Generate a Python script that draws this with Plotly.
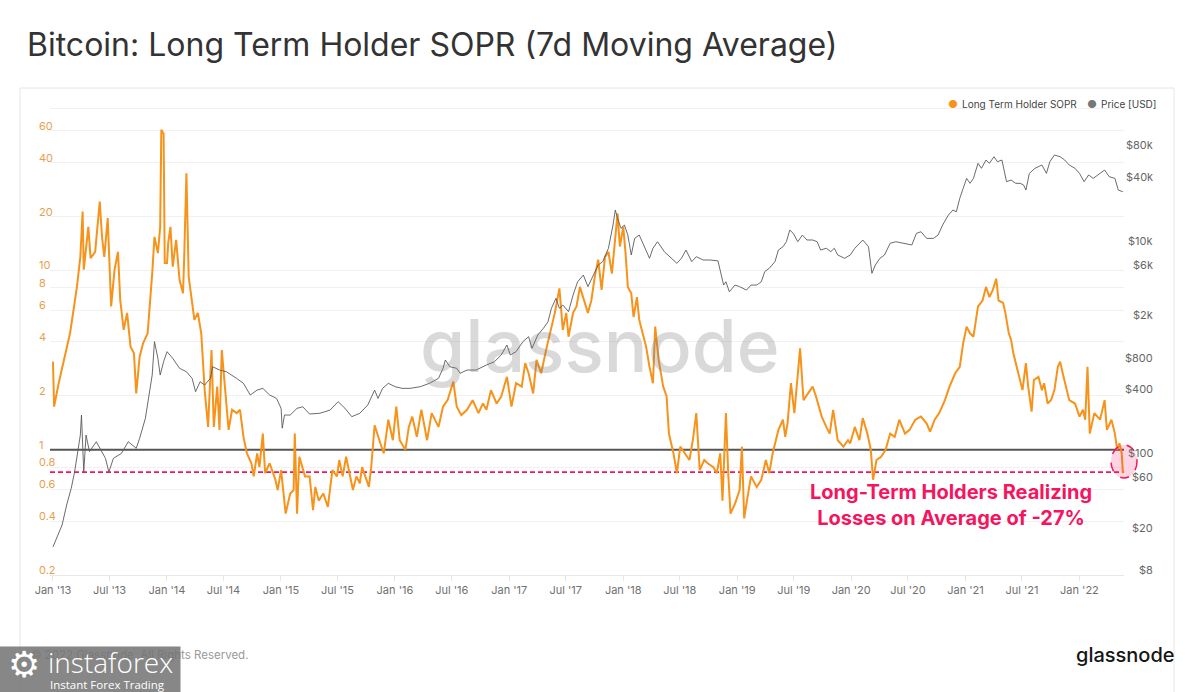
import numpy as np
import pandas as pd
import plotly.graph_objects as go

# ---------------- data ----------------
# dates are given as decimal years
sopr_t = [2013.00, 2013.01, 2013.05, 2013.08, 2013.11, 2013.15, 2013.18, 2013.21, 2013.24, 2013.26,
          2013.27, 2013.31, 2013.33, 2013.37, 2013.41, 2013.43, 2013.45, 2013.48, 2013.51, 2013.54,
          2013.57, 2013.59, 2013.62, 2013.65, 2013.68, 2013.71, 2013.73, 2013.76, 2013.79, 2013.83,
          2013.87, 2013.89, 2013.92, 2013.94, 2013.95, 2013.97, 2013.98, 2014.00, 2014.01, 2014.03,
          2014.05, 2014.08, 2014.11, 2014.14, 2014.15, 2014.17, 2014.19, 2014.22, 2014.24, 2014.27,
          2014.30, 2014.33, 2014.36, 2014.39, 2014.41, 2014.44, 2014.46, 2014.48, 2014.51, 2014.54,
          2014.57, 2014.61, 2014.64, 2014.67, 2014.70, 2014.74, 2014.76, 2014.79, 2014.81, 2014.84,
          2014.86, 2014.90, 2014.95, 2014.97, 2015.00, 2015.04, 2015.08, 2015.11, 2015.12, 2015.14,
          2015.16, 2015.21, 2015.25, 2015.28, 2015.30, 2015.33, 2015.37, 2015.41, 2015.45, 2015.49,
          2015.51, 2015.54, 2015.57, 2015.60, 2015.63, 2015.66, 2015.69, 2015.71, 2015.74, 2015.77,
          2015.79, 2015.82, 2015.87, 2015.90, 2015.94, 2015.98, 2016.01, 2016.04, 2016.09, 2016.12,
          2016.15, 2016.19, 2016.23, 2016.28, 2016.32, 2016.38, 2016.42, 2016.46, 2016.51, 2016.54,
          2016.58, 2016.63, 2016.68, 2016.73, 2016.77, 2016.80, 2016.84, 2016.89, 2016.93, 2016.98,
          2017.02, 2017.06, 2017.11, 2017.14, 2017.17, 2017.21, 2017.24, 2017.28, 2017.33, 2017.36,
          2017.40, 2017.44, 2017.47, 2017.50, 2017.52, 2017.56, 2017.59, 2017.62, 2017.66, 2017.69,
          2017.72, 2017.75, 2017.78, 2017.81, 2017.84, 2017.87, 2017.90, 2017.93, 2017.95, 2017.97,
          2018.00, 2018.02, 2018.04, 2018.07, 2018.09, 2018.12, 2018.14, 2018.17, 2018.20, 2018.23,
          2018.26, 2018.28, 2018.31, 2018.35, 2018.38, 2018.40, 2018.44, 2018.47, 2018.50, 2018.54,
          2018.58, 2018.61, 2018.64, 2018.67, 2018.71, 2018.74, 2018.79, 2018.82, 2018.85, 2018.87,
          2018.90, 2018.92, 2018.94, 2018.98, 2019.02, 2019.04, 2019.06, 2019.09, 2019.12, 2019.17,
          2019.21, 2019.25, 2019.28, 2019.31, 2019.36, 2019.40, 2019.42, 2019.44, 2019.47, 2019.50,
          2019.55, 2019.58, 2019.62, 2019.66, 2019.69, 2019.74, 2019.78, 2019.81, 2019.84, 2019.88,
          2019.93, 2019.97, 2019.99, 2020.03, 2020.07, 2020.10, 2020.14, 2020.17, 2020.19, 2020.22,
          2020.26, 2020.30, 2020.34, 2020.38, 2020.42, 2020.47, 2020.51, 2020.56, 2020.61, 2020.66,
          2020.69, 2020.73, 2020.77, 2020.82, 2020.86, 2020.91, 2020.95, 2020.98, 2021.01, 2021.04,
          2021.07, 2021.11, 2021.15, 2021.18, 2021.21, 2021.24, 2021.27, 2021.29, 2021.33, 2021.35,
          2021.38, 2021.40, 2021.42, 2021.44, 2021.48, 2021.50, 2021.53, 2021.55, 2021.58, 2021.60,
          2021.64, 2021.67, 2021.69, 2021.72, 2021.75, 2021.78, 2021.81, 2021.83, 2021.86, 2021.88,
          2021.91, 2021.96, 2022.00, 2022.03, 2022.05, 2022.07, 2022.08, 2022.09, 2022.13, 2022.18,
          2022.22, 2022.24, 2022.28, 2022.31, 2022.33, 2022.35, 2022.37, 2022.38]
sopr_v = [3.1, 1.74, 2.35, 2.85, 3.46, 4.48, 6.0, 8.1, 11.9, 21.3,
          10.1, 17.5, 11.7, 12.7, 24.2, 15.4, 11.9, 19.6, 6.3, 10.1,
          12.7, 6.8, 4.66, 5.8, 3.76, 3.45, 2.06, 3.30, 3.92, 4.46,
          9.6, 15.4, 12.5, 17.5, 61, 58, 11, 11, 14.2, 17.5,
          10.5, 14.8, 8.85, 7.46, 11.5, 34.9, 9.2, 6.8, 5.3, 5.8,
          4.46, 2.15, 1.34, 3.6, 1.34, 2.25, 1.29, 3.6, 2.15, 1.29,
          1.67, 1.6, 1.67, 1.18, 0.955, 0.84, 0.71, 0.955, 0.80, 1.23,
          0.74, 0.84, 0.68, 0.596, 0.77, 0.44, 0.57, 0.596, 1.23, 0.44,
          0.914, 0.71, 0.71, 0.46, 0.62, 0.52, 0.57, 0.48, 0.77, 0.71,
          0.876, 0.71, 0.914, 0.74, 0.596, 0.71, 0.65, 0.80, 0.71, 0.62,
          0.80, 1.37, 1.086, 0.955, 1.47, 1.13, 1.74, 1.13, 1.0, 1.34,
          1.53, 1.18, 1.67, 1.13, 1.6, 1.34, 1.74, 1.89, 2.4, 1.74,
          1.56, 1.67, 1.89, 1.6, 1.81, 1.67, 2.15, 1.81, 1.98, 2.55,
          1.74, 2.35, 2.25, 3.04, 2.67, 2.06, 3.17, 2.67, 3.76, 4.46,
          5.8, 7.95, 4.66, 5.8, 4.27, 5.8, 6.3, 8.1, 6.8, 5.8,
          6.8, 9.2, 11.5, 7.8, 11.9, 12.7, 9.6, 16.1, 20.8, 13.6,
          17.5, 12.5, 8.1, 7.46, 5.5, 7.1, 5.3, 4.46, 3.76, 2.9,
          2.35, 4.86, 3.17, 2.25, 1.98, 1.23, 0.955, 0.74, 1.04, 0.955,
          0.876, 1.13, 1.6, 0.77, 0.876, 0.84, 0.80, 0.74, 0.955, 0.52,
          1.6, 0.74, 0.44, 0.50, 0.596, 1.04, 0.414, 0.547, 0.71, 0.62,
          0.68, 0.876, 0.74, 0.955, 1.29, 1.47, 1.18, 1.4, 2.35, 1.6,
          3.68, 1.89, 2.06, 2.25, 1.98, 1.53, 1.34, 1.23, 1.67, 1.13,
          1.04, 1.13, 1.086, 1.34, 1.13, 1.50, 1.23, 1.0, 0.68, 0.876,
          0.914, 1.0, 1.23, 1.18, 1.47, 1.23, 1.29, 1.47, 1.53, 1.4,
          1.26, 1.47, 1.6, 1.89, 2.25, 2.67, 2.9, 3.92, 4.86, 4.46,
          4.27, 6.3, 6.8, 8.1, 7.1, 7.8, 9.0, 6.8, 6.6, 5.8,
          4.46, 4.1, 3.45, 3.04, 2.45, 2.15, 3.04, 2.25, 1.63, 2.45,
          2.55, 2.15, 2.35, 1.81, 1.89, 2.15, 2.9, 3.1, 2.55, 2.25,
          1.89, 1.81, 1.53, 1.67, 1.47, 2.9, 2.06, 1.23, 1.6, 1.47,
          1.89, 1.29, 1.47, 1.23, 1.0, 1.086, 0.955, 0.74]

price_t = [2013.00, 2013.03, 2013.08, 2013.12, 2013.16, 2013.19, 2013.22, 2013.24, 2013.25, 2013.27,
           2013.29, 2013.32, 2013.38, 2013.43, 2013.46, 2013.49, 2013.53, 2013.60, 2013.66, 2013.73,
           2013.76, 2013.81, 2013.84, 2013.87, 2013.89, 2013.92, 2013.94, 2013.97, 2014.00, 2014.05,
           2014.11, 2014.17, 2014.22, 2014.25, 2014.29, 2014.33, 2014.38, 2014.40, 2014.46, 2014.52,
           2014.61, 2014.67, 2014.73, 2014.79, 2014.84, 2014.90, 2014.96, 2015.00, 2015.01, 2015.03,
           2015.08, 2015.14, 2015.19, 2015.25, 2015.34, 2015.43, 2015.50, 2015.56, 2015.62, 2015.69,
           2015.76, 2015.82, 2015.85, 2015.89, 2015.94, 2016.00, 2016.06, 2016.13, 2016.22, 2016.30,
           2016.38, 2016.42, 2016.44, 2016.48, 2016.54, 2016.57, 2016.63, 2016.71, 2016.80, 2016.87,
           2016.93, 2016.98, 2017.01, 2017.06, 2017.12, 2017.17, 2017.20, 2017.25, 2017.30, 2017.34,
           2017.37, 2017.41, 2017.44, 2017.47, 2017.52, 2017.56, 2017.60, 2017.65, 2017.69, 2017.74,
           2017.78, 2017.82, 2017.87, 2017.91, 2017.93, 2017.95, 2017.98, 2018.01, 2018.04, 2018.07,
           2018.10, 2018.14, 2018.19, 2018.23, 2018.26, 2018.30, 2018.36, 2018.42, 2018.47, 2018.51,
           2018.55, 2018.60, 2018.64, 2018.70, 2018.76, 2018.83, 2018.86, 2018.88, 2018.90, 2018.93,
           2018.98, 2019.02, 2019.08, 2019.12, 2019.17, 2019.21, 2019.24, 2019.28, 2019.33, 2019.36,
           2019.40, 2019.43, 2019.46, 2019.49, 2019.53, 2019.57, 2019.61, 2019.66, 2019.70, 2019.73,
           2019.78, 2019.82, 2019.85, 2019.88, 2019.94, 2019.99, 2020.03, 2020.10, 2020.15, 2020.17,
           2020.18, 2020.21, 2020.25, 2020.29, 2020.34, 2020.39, 2020.45, 2020.53, 2020.57, 2020.61,
           2020.66, 2020.72, 2020.76, 2020.80, 2020.85, 2020.89, 2020.92, 2020.95, 2020.98, 2021.01,
           2021.04, 2021.07, 2021.11, 2021.14, 2021.18, 2021.21, 2021.25, 2021.28, 2021.32, 2021.34,
           2021.36, 2021.40, 2021.44, 2021.48, 2021.51, 2021.53, 2021.56, 2021.61, 2021.67, 2021.71,
           2021.74, 2021.78, 2021.83, 2021.87, 2021.91, 2021.96, 2022.00, 2022.04, 2022.08, 2022.12,
           2022.16, 2022.22, 2022.26, 2022.31, 2022.34, 2022.38]
price_v = [13.2, 15.9, 21.2, 32.7, 47, 67.3, 111.8, 149, 230, 67,
           149, 104, 129, 104, 90, 67, 90, 100, 129, 111.8,
           139, 214, 355, 547, 1128, 786, 547, 730, 908, 786,
           633, 588, 509, 381, 473, 441, 509, 655, 610, 588,
           509, 457, 355, 395, 410, 355, 330, 266, 173, 230,
           230, 266, 275, 235, 239, 256, 307, 266, 222, 239,
           286, 395, 330, 410, 457, 425, 410, 410, 425, 457,
           509, 633, 757, 655, 633, 568, 610, 610, 680, 730,
           845, 1049, 845, 908, 1128, 1256, 977, 1302, 1507, 1738,
           2323, 2886, 2323, 2497, 2160, 3100, 4132, 4776, 3714, 4776,
           5940, 6385, 8535, 14130, 19550, 16320, 13150, 14130, 11370, 7380,
           10580, 11370, 8535, 6870, 8535, 9840, 7930, 6870, 6160, 6870,
           8220, 6385, 7110, 6620, 6620, 6500, 4776, 3846, 4132, 3325,
           3846, 3714, 3450, 3846, 3846, 4132, 5140, 5535, 6385, 8220,
           8830, 9840, 12680, 11800, 9840, 11370, 10210, 10210, 9840, 8220,
           8535, 7930, 8535, 7380, 6870, 7380, 8535, 10210, 8830, 6385,
           4960, 5940, 6870, 7380, 9510, 9840, 9510, 9170, 11800, 12210,
           10580, 10580, 11370, 14130, 17540, 19550, 18830, 25170, 31270, 38820,
           34870, 38820, 53830, 48300, 57800, 53830, 62100, 55700, 57800, 46560,
           36130, 37500, 34870, 34870, 33630, 30150, 43270, 48300, 51900, 43270,
           55700, 64400, 62100, 57800, 51900, 48300, 43270, 36130, 41800, 38820,
           41800, 46560, 40300, 38820, 30150, 29060]

sopr_ticks = [0.2, 0.4, 0.6, 0.8, 1, 2, 4, 6, 8, 10, 20, 40, 60]
sopr_grid = sopr_ticks + [80]
price_ticks = [8, 20, 60, 100, 400, 800, 2000, 6000, 10000, 40000, 80000]
price_tick_text = ['$8', '$20', '$60', '$100', '$400', '$800', '$2k', '$6k', '$10k', '$40k', '$80k']
breakeven_level = 1.0
avg_loss_level = 0.75
x_window = [2012.974, 2022.39]

# ---------------- helpers ----------------
def to_date(t):
    t = np.asarray(t, dtype=float)
    return pd.Timestamp('2013-01-01') + pd.to_timedelta((t - 2013.0) * 365.25, unit='D')

W, H = 1200, 692
ML, MR, MT, MB = 50, 76, 107, 117
PW, PH = W - ML - MR, H - MT - MB

def px(x):  # pixel -> paper x
    return (x - ML) / PW

def py(y):  # pixel -> paper y
    return (H - MB - y) / PH

ORANGE = '#F7931A'
PINK = '#F5155F'
FONT = 'Inter, Roboto, sans-serif'

sopr_dates = to_date(sopr_t)
price_dates = to_date(price_t)
xr = to_date(x_window)

fig = go.Figure()

fig.add_trace(go.Scatter(x=price_dates, y=price_v, name='Price [USD]', mode='lines',
                         line=dict(color='#5a5a5a', width=0.9), yaxis='y2', showlegend=False))
fig.add_trace(go.Scatter(x=[xr[0], xr[1]], y=[avg_loss_level, avg_loss_level], mode='lines',
                         line=dict(color=PINK, width=1.6, dash='5px,3px'), showlegend=False,
                         hoverinfo='skip'))
fig.add_trace(go.Scatter(x=[xr[0], xr[1]], y=[breakeven_level, breakeven_level], mode='lines',
                         line=dict(color='#555555', width=2), showlegend=False, hoverinfo='skip'))
fig.add_trace(go.Scatter(x=sopr_dates, y=sopr_v, name='Long Term Holder SOPR', mode='lines',
                         line=dict(color=ORANGE, width=2), showlegend=False))

fig.update_layout(
    width=W, height=H,
    margin=dict(l=ML, r=MR, t=MT, b=MB),
    paper_bgcolor='white', plot_bgcolor='white',
    font=dict(family=FONT, color='#666666', size=11),
    title=dict(text='Bitcoin: Long Term Holder SOPR (7d Moving Average)',
               x=27 / W, xref='container', xanchor='left',
               y=1 - 45 / H, yref='container', yanchor='middle',
               font=dict(family=FONT, size=32, color='#333333')),
    xaxis=dict(type='date', range=[xr[0], xr[1]], tick0='2013-01-01', dtick='M6',
               tickformat="%b '%y", showgrid=False, zeroline=False,
               showline=True, linecolor='#e8e8e8', linewidth=1,
               ticks='outside', ticklen=5, tickcolor='#e6e6e6',
               tickfont=dict(size=11, color='#707070')),
    yaxis=dict(type='log', range=[np.log10(0.2), 1.912], tickvals=sopr_grid,
               showticklabels=False, showgrid=True, gridcolor='#f1f1f1', gridwidth=1,
               zeroline=False, ticks=''),
    yaxis2=dict(type='log', range=[0.856, 5.261], overlaying='y', side='right',
                showgrid=False, showticklabels=False, zeroline=False, ticks=''),
    showlegend=False,
    hovermode='x',
)

ann = []
# left (SOPR) tick labels, sitting just above their grid lines
for v in sopr_ticks:
    ann.append(dict(x=px(37), xref='paper', xanchor='left', y=np.log10(v), yref='y',
                    yanchor='middle', yshift=5, text=f'{v:g}', showarrow=False,
                    font=dict(size=11, color='#E9A04E', family=FONT)))
# right (price) tick labels
for v, t in zip(price_ticks, price_tick_text):
    ann.append(dict(x=px(1155), xref='paper', xanchor='right', y=np.log10(v), yref='y2',
                    yanchor='middle', text=t, showarrow=False,
                    font=dict(size=11, color='#666666', family=FONT)))
# legend
ann += [
    dict(x=px(953), y=py(104), xref='paper', yref='paper', text='●', showarrow=False,
         xanchor='center', yanchor='middle', font=dict(size=11, color=ORANGE)),
    dict(x=px(960), y=py(104), xref='paper', yref='paper', text='Long Term Holder SOPR',
         showarrow=False, xanchor='left', yanchor='middle', font=dict(size=10, color='#444444', family=FONT)),
    dict(x=px(1092), y=py(104), xref='paper', yref='paper', text='●', showarrow=False,
         xanchor='center', yanchor='middle', font=dict(size=11, color='#777777')),
    dict(x=px(1099), y=py(104), xref='paper', yref='paper', text='Price [USD]',
         showarrow=False, xanchor='left', yanchor='middle', font=dict(size=10, color='#444444', family=FONT)),
]
# glassnode watermark
ann.append(dict(x=px(600), y=py(345), xref='paper', yref='paper', text='glassnode', showarrow=False,
                xanchor='center', yanchor='middle',
                font=dict(size=73, color='rgba(120,120,120,0.28)', family=FONT, weight=500)))
# callout text
ann.append(dict(x=px(951), y=py(505), xref='paper', yref='paper',
                text='Long-Term Holders Realizing<br>Losses on Average of -27%', showarrow=False,
                xanchor='center', yanchor='middle', align='center',
                font=dict(size=20, color=PINK, family=FONT, weight=700)))
# footer
ann.append(dict(x=px(29), y=py(655), xref='paper', yref='paper',
                text='© 2022 Glassnode. All Rights Reserved.', showarrow=False,
                xanchor='left', yanchor='middle', font=dict(size=11.5, color='#9a9a9a', family=FONT)))
ann.append(dict(x=px(1125), y=py(655), xref='paper', yref='paper', text='glassnode', showarrow=False,
                xanchor='center', yanchor='middle', font=dict(size=20, color='#151515', family=FONT, weight=500)))
# instaforex overlay badge (semi-transparent, the footer shows faintly through it)
ann.append(dict(x=px(90), y=py(669.5), xref='paper', yref='paper', text=' ', showarrow=False,
                xanchor='center', yanchor='middle', width=180, height=45, borderpad=0,
                bgcolor='rgba(115,115,115,0.86)'))
ann.append(dict(x=px(24), y=py(664), xref='paper', yref='paper', text='⚙', showarrow=False,
                xanchor='center', yanchor='middle', font=dict(size=36, color='white', family='DejaVu Sans')))
ann.append(dict(x=px(46), y=py(662), xref='paper', yref='paper', text='instaforex', showarrow=False,
                xanchor='left', yanchor='middle', font=dict(size=28, color='white', family='Open Sans', weight=300)))
ann.append(dict(x=px(48), y=py(684), xref='paper', yref='paper', text='Instant Forex Trading', showarrow=False,
                xanchor='left', yanchor='middle', font=dict(size=11.5, color='white', family='Open Sans')))
fig.update_layout(annotations=ann)

fig.update_layout(shapes=[
    # chart card border
    dict(type='rect', xref='paper', yref='paper', x0=px(20), x1=px(1174), y0=py(720), y1=py(88),
         line=dict(color='#e6e6e6', width=1), fillcolor='rgba(0,0,0,0)', layer='below'),
    # highlighted latest reading
    dict(type='circle', xref='paper', yref='paper', x0=px(1111), x1=px(1137), y0=py(478), y1=py(445),
         line=dict(color=PINK, width=1.5, dash='dash'), fillcolor='rgba(245,21,95,0.18)', layer='above'),
])

fig.write_html("out.html", config={'displayModeBar': False},
               post_script="document.body.style.margin='0';document.body.style.overflow='hidden';")
